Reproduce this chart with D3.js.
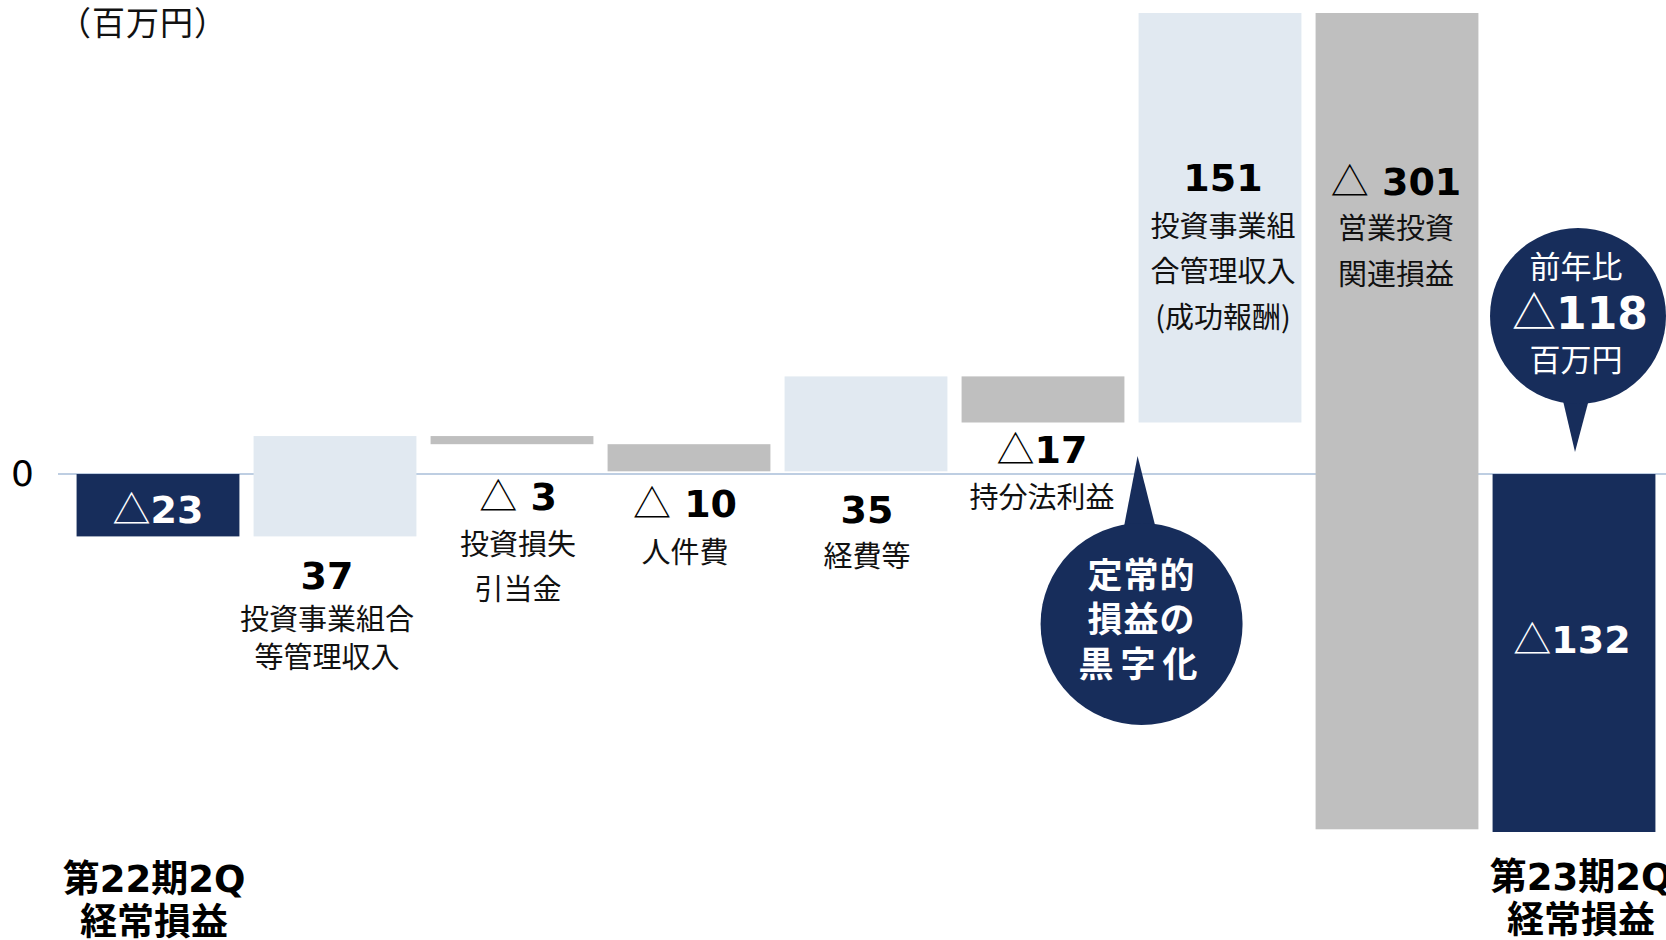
<!DOCTYPE html>
<html>
<head>
<meta charset="utf-8">
<script src="https://cdn.jsdelivr.net/npm/d3@7"></script>
<style>
  body { margin: 0; background: #fff; }
  svg { display: block; }
  text { white-space: pre; }
</style>
</head>
<body>
<div id="chart"></div>
<script>
// data (百万円)
var categories = ["第22期2Q経常損益", "投資事業組合等管理収入", "投資損失引当金", "人件費", "経費等",
                  "持分法利益", "投資事業組合管理収入(成功報酬)", "営業投資関連損益", "第23期2Q経常損益"];
var values = [-23, 37, -3, -10, 35, -17, 151, -301, -132];
var kinds = ["total", "delta", "delta", "delta", "delta", "delta", "delta", "delta", "total"];
var valueLabels = ["△23", "37", "△ 3", "△ 10", "35", "△17", "151", "△ 301", "△132"];
var nameLines = [[], ["投資事業組合", "等管理収入"], ["投資損失", "引当金"], ["人件費"], ["経費等"],
                 ["持分法利益"], ["投資事業組", "合管理収入", "(成功報酬)"], ["営業投資", "関連損益"], []];
var periodLines = [["第22期2Q", "経常損益"], ["第23期2Q", "経常損益"]];
var bubbleLines = ["定常的", "損益の", "黒字化"];
var yoyLines = ["前年比", "△118", "百万円"];
var unitLabel = "（百万円）";

var W = 1666, H = 940;
var latin = "'DejaVu Sans', 'Noto Sans CJK JP', sans-serif";
var cjk = "'Noto Sans CJK JP', sans-serif";
var navy = "#172d5b", light = "#e1e9f1", grey = "#bfbfbf";

// label placement, relative to the bar (layout only)
var labelLayout = [
  {ref: "mid", dy: 4, dx: 0},
  {ref: "bottom", dy: 38.6, dx: -8, gap1: 44, gap: 38},
  {ref: "bottom", dy: 52, dx: 6, gap1: 48, gap: 45},
  {ref: "bottom", dy: 32, dx: -4, gap1: 49, gap: 45},
  {ref: "bottom", dy: 38, dx: 1, gap1: 47, gap: 45},
  {ref: "bottom", dy: 26.5, dx: -1, gap1: 48, gap: 45},
  {ref: "top", dy: 164, dx: 3, gap1: 49, gap: 45.5},
  {ref: "top", dy: 168, dx: -1, gap1: 47, gap: 46},
  {ref: "mid", dy: -14, dx: -2}
];

// waterfall
var run = 0;
var bars = values.map(function(v, i) {
  var s, e;
  if (kinds[i] === "total") { s = 0; e = v; run = v; }
  else { s = run; e = run + v; run = e; }
  return {name: categories[i], kind: kinds[i], value: v, start: s, end: e, i: i};
});

var svg = d3.select("#chart").append("svg").attr("width", W).attr("height", H);

var x = d3.scaleBand().domain(categories).range([69.5, 1662.5]).paddingInner(0.08).paddingOuter(0.04);
var y = d3.scaleLinear().domain([-132, 170]).range([832, 13]);
var bw = x.bandwidth();

// zero line
svg.append("line")
  .attr("x1", 58).attr("x2", W)
  .attr("y1", y(0)).attr("y2", y(0))
  .attr("stroke", "#a9bed9").attr("stroke-width", 1.5);

// y axis, only 0
var ax = svg.append("g").attr("transform", "translate(34,0)")
  .call(d3.axisLeft(y).tickValues([0]).tickSize(0).tickPadding(0));
ax.select(".domain").remove();
ax.selectAll("text").style("font-family", latin).style("font-size", "36px").attr("fill", "#000");

// bars
svg.selectAll("rect.bar")
  .data(bars)
  .enter().append("rect")
    .attr("class", "bar")
    .attr("x", function(d) { return x(d.name); })
    .attr("width", bw)
    .attr("y", function(d) { return y(Math.max(d.start, d.end)); })
    .attr("height", function(d) { return Math.abs(y(d.start) - y(d.end)); })
    .attr("fill", function(d) { return d.kind === "total" ? navy : (d.value > 0 ? light : grey); });

function valueText(g, str, cx, cy, fs, color) {
  var t = g.append("text").attr("x", cx).attr("y", cy + 0.37 * fs)
    .attr("text-anchor", "middle").attr("fill", color).style("font-size", fs + "px");
  var rest = str;
  if (str[0] === "△") {
    t.append("tspan").style("font-family", cjk).style("font-weight", 400).text("△");
    rest = str.slice(1);
  }
  t.append("tspan").style("font-family", latin).style("font-weight", 700).text(rest);
}

function plainText(g, str, cx, cy, fs, color, weight, family) {
  g.append("text").attr("x", cx).attr("y", cy + 0.37 * fs)
    .attr("text-anchor", "middle").attr("fill", color)
    .style("font-family", family || cjk).style("font-weight", weight || 400)
    .style("font-size", fs + "px").text(str);
}

// value + name labels
var lab = svg.append("g");
bars.forEach(function(d, i) {
  var L = labelLayout[i];
  var top = y(Math.max(d.start, d.end)), bot = y(Math.min(d.start, d.end));
  var base = L.ref === "top" ? top : L.ref === "bottom" ? bot : (top + bot) / 2;
  var cx = x(d.name) + bw / 2 + L.dx;
  var cy = base + L.dy;
  var color = d.kind === "total" ? "#fff" : "#000";
  valueText(lab, valueLabels[i], cx, cy, 38, color);
  nameLines[i].forEach(function(s, k) {
    plainText(lab, s, cx, cy + L.gap1 + k * L.gap, 29, "#111");
  });
});

// period labels under the total bars
[0, 8].forEach(function(idx, k) {
  var cx = x(categories[idx]) + bw / 2 + (k === 0 ? -4 : 7);
  periodLines[k].forEach(function(s, j) {
    plainText(svg, s, cx, y(-132) + 46 - k * 2 + j * 43, 37, "#000", 700, latin);
  });
});

// unit
svg.append("text").attr("x", 58).attr("y", 23 + 0.37 * 33)
  .style("font-family", cjk).style("font-size", "33px").style("letter-spacing", "1px")
  .attr("fill", "#111").text(unitLabel);

// callout 1: 定常的損益の黒字化
var c1x = x(categories[6]) + 3, c1y = y(0) + 150, r1 = 101;
var bub = svg.append("g");
bub.append("path")
  .attr("d", d3.line()([[c1x - 20, c1y - 85], [c1x - 4, y(0) - 18], [c1x + 17, c1y - 85]]) + "Z")
  .attr("fill", navy);
bub.append("circle").attr("cx", c1x).attr("cy", c1y).attr("r", r1).attr("fill", navy);
bubbleLines.forEach(function(s, k) {
  bub.append("text").attr("x", c1x).attr("y", c1y - 49 + k * 44.5 + 0.37 * 35)
    .attr("text-anchor", "middle").attr("fill", "#fff")
    .style("font-family", cjk).style("font-weight", 700).style("font-size", "35px")
    .style("letter-spacing", k === 2 ? "7px" : "1px")
    .text(s);
});

// callout 2: 前年比
var c2x = x(categories[8]) + bw / 2 + 4, c2y = 316, r2 = 88;
var yoy = svg.append("g");
yoy.append("path")
  .attr("d", d3.line()([[c2x - 18, c2y + 72], [c2x - 3, y(0) - 22], [c2x + 14, c2y + 72]]) + "Z")
  .attr("fill", navy);
yoy.append("circle").attr("cx", c2x).attr("cy", c2y).attr("r", r2).attr("fill", navy);
plainText(yoy, yoyLines[0], c2x - 2, c2y - 49, 31, "#fff");
valueText(yoy, yoyLines[1], c2x + 2, c2y - 3, 44, "#fff");
plainText(yoy, yoyLines[2], c2x - 2, c2y + 44, 31, "#fff");
</script>
</body>
</html>
